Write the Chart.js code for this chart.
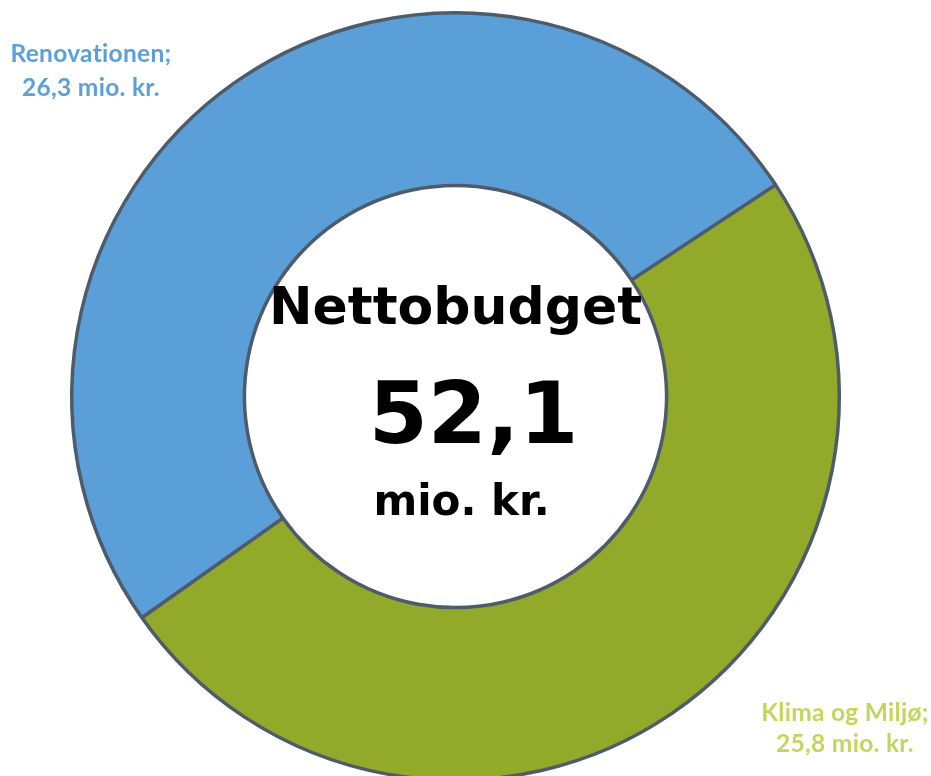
<!doctype html>
<html lang="da">
  <head>
    <meta charset="utf-8">
    <title>Nettobudget</title>
    <style>
      * { margin: 0; padding: 0; }
      body { width: 931px; height: 776px; overflow: hidden; background: #fff; }
      #budget { position: absolute; left: 0; top: 0; }
    </style>
  </head>
  <body>
    <canvas id="budget" width="931" height="800"></canvas>
    <script src="https://cdn.jsdelivr.net/npm/chart.js"></script>
    <script>
    // data
    const areas = ['Renovationen', 'Klima og Miljø'];
    const amounts = [26.3, 25.8];
    const total = 52.1;
    const segColours = ['#5a9fd8', '#93a929'];
    const labelColours = ['#5ba0da', '#c3d65c'];

    const fmt = v => v.toFixed(1).replace('.', ',');

    // centre text + outside labels
    const budgetText = {
      id: 'budgetText',
      afterDraw(chart) {
        const { ctx, chartArea: { left, right, top, bottom } } = chart;
        const cx = (left + right) / 2;
        const cy = (top + bottom) / 2;
        ctx.save();
        ctx.fillStyle = '#000';
        ctx.textAlign = 'center';
        ctx.textBaseline = 'alphabetic';
        ctx.font = 'bold 52px "DejaVu Sans"';
        ctx.fillText('Nettobudget', cx, cy - 73);
        ctx.font = 'bold 85px "DejaVu Sans"';
        ctx.fillText(fmt(total), cx + 18, cy + 46);
        ctx.font = 'bold 42px "DejaVu Sans"';
        ctx.fillText('mio. kr.', cx + 6, cy + 118);

        // small letter spacing stops the Lato "ti" ligature
        ctx.letterSpacing = '0.3px';
        ctx.font = 'bold 24.5px Lato';
        ctx.fillStyle = labelColours[0];
        ctx.fillText(areas[0] + ';', 91, 62);
        ctx.fillText(fmt(amounts[0]) + ' mio. kr.', 91, 96);
        ctx.fillStyle = labelColours[1];
        ctx.fillText(areas[1] + ';', 845, 721);
        ctx.fillText(fmt(amounts[1]) + ' mio. kr.', 845, 752);
        ctx.restore();
      }
    };

    const config = {
      type: 'doughnut',
      data: {
        labels: areas,
        datasets: [{
          data: amounts,
          backgroundColor: segColours,
          borderColor: '#4e5b6b',
          borderWidth: 3.5
        }]
      },
      options: {
        responsive: false,
        animation: false,
        cutout: '55%',
        rotation: 234.8,
        layout: {
          padding: { left: 70, right: 90, top: 11, bottom: 18 }
        },
        plugins: {
          legend: { display: false },
          tooltip: { enabled: false }
        }
      },
      plugins: [budgetText]
    };

    const budgetChart = new Chart(document.getElementById('budget'), config);
    </script>
  </body>
</html>
